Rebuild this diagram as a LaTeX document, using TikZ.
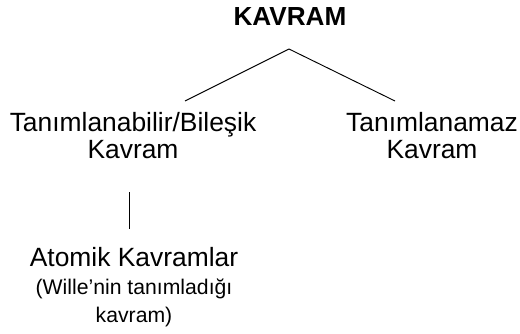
\documentclass[tikz,border=0pt]{standalone}
\usepackage{fontspec}
\setmainfont{Liberation Sans}
\usetikzlibrary{positioning}

\begin{document}
\begin{tikzpicture}[x=0.75pt, y=-0.75pt,
    root/.style={inner sep=0pt, font=\fontsize{19.6}{22}\selectfont\bfseries},
    concept/.style={inner sep=0pt, align=center, font=\fontsize{19.8}{20.25}\selectfont},
    note/.style={inner sep=0pt, align=center, font=\fontsize{15.9}{21}\selectfont},
    branch/.style={line width=0.7pt}]
    \useasboundingbox (0,0) rectangle (520,333);
    % Nodes (concept tree), placed by last baseline
    \node[root, anchor=base] (kavram) at (290,25.5) {KAVRAM};
    \node[concept, anchor=base] (bilesik) at (133,158) {Tanımlanabilir/Bileşik\\Kavram};
    \node[concept, anchor=base] (tanimsiz) at (432,158) {Tanımlanamaz\\Kavram};
    \node[concept, anchor=base] (atomik) at (134,266) {Atomik Kavramlar};
    \node[note, anchor=base] (wille) at (134,322) {(Wille’nin tanımladığı\\kavram)};
    % Branch points
    \coordinate (apex) at (289,49);
    \coordinate (leftend) at (185,101);
    \coordinate (rightend) at (395,101);
    \coordinate (stemtop) at (129,192);
    \coordinate (stembot) at (129,229);
    % Branches
    \draw[branch] (apex) -- (leftend);
    \draw[branch] (apex) -- (rightend);
    \draw[branch] (stemtop) -- (stembot);
\end{tikzpicture}
\end{document}
